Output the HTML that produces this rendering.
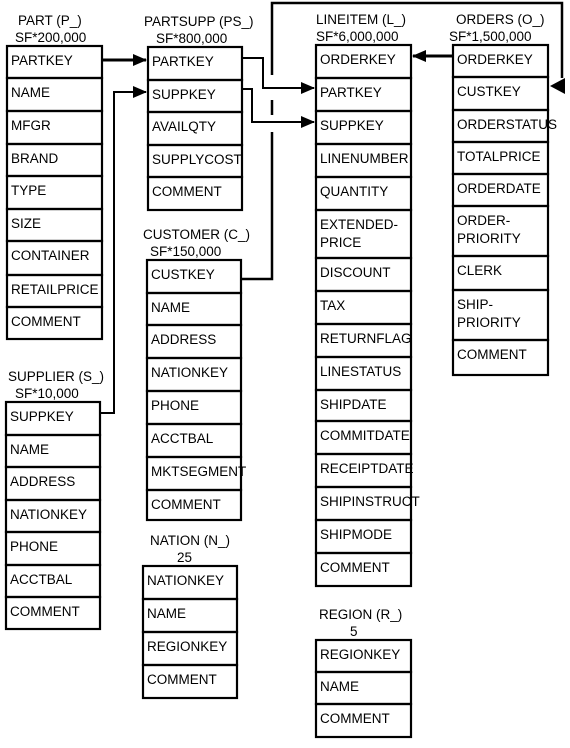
<!DOCTYPE html>
<html><head><meta charset="utf-8"><style>
body{margin:0;background:#fff;width:570px;height:743px;overflow:hidden}
svg text{font-family:"Liberation Sans",Arial,sans-serif;font-size:13.5px;fill:#000}
</style></head><body>
<svg width="570" height="743" xmlns="http://www.w3.org/2000/svg">
<defs>
<marker id="b" markerWidth="14" markerHeight="12" refX="13" refY="6" orient="auto" markerUnits="userSpaceOnUse"><path d="M0,0 L14,6 L0,12z" fill="#000"/></marker></defs>
<g id="t"></g>
<g fill="none" stroke="#000" stroke-width="2.5">
<path d="M102,60 H146" stroke-width="3" marker-end="url(#b)"/>
<path d="M100,413 H114 V92 H146" stroke-width="2" marker-end="url(#b)"/>
<path d="M242,58 H263 V88 H314" stroke-width="2" marker-end="url(#b)"/>
<path d="M242,89 H252 V122 H314" stroke-width="2" marker-end="url(#b)"/>
<path d="M241,279 H272 V132 M272,115 V100 M272,75 V3 H562 V78" stroke-width="2.5"/>
<path d="M453,56 H413" stroke-width="3" marker-end="url(#b)"/>
</g>
<path d="M565,78 L565,94 L550,86z" fill="#000"/>
</svg>
<script>
var T=[
["PART (P_)","SF*200,000",7,102,18,15,46,[["PARTKEY",32],["NAME",33],["MFGR",33],["BRAND",32],["TYPE",33],["SIZE",32],["CONTAINER",34],["RETAILPRICE",32],["COMMENT",32]]],
["PARTSUPP (PS_)","SF*800,000",148,242,144,156,47,[["PARTKEY",33],["SUPPKEY",32],["AVAILQTY",33],["SUPPLYCOST",32],["COMMENT",33]]],
["LINEITEM (L_)","SF*6,000,000",316,411,316,316,45,[["ORDERKEY",33],["PARTKEY",33],["SUPPKEY",33],["LINENUMBER",33],["QUANTITY",33],["EXTENDED-|PRICE",48],["DISCOUNT",33],["TAX",33],["RETURNFLAG",33],["LINESTATUS",33],["SHIPDATE",31],["COMMITDATE",33],["RECEIPTDATE",33],["SHIPINSTRUCT",33],["SHIPMODE",33],["COMMENT",33]]],
["ORDERS (O_)","SF*1,500,000",453,548,456,449,45,[["ORDERKEY",32],["CUSTKEY",33],["ORDERSTATUS",32],["TOTALPRICE",32],["ORDERDATE",32],["ORDER-|PRIORITY",50],["CLERK",34],["SHIP-|PRIORITY",50],["COMMENT",35]]],
["CUSTOMER (C_)","SF*150,000",147,241,143,150,260,[["CUSTKEY",33],["NAME",32],["ADDRESS",33],["NATIONKEY",33],["PHONE",33],["ACCTBAL",33],["MKTSEGMENT",33],["COMMENT",30]]],
["SUPPLIER (S_)","SF*10,000",6,100,8,15,402,[["SUPPKEY",33],["NAME",32],["ADDRESS",33],["NATIONKEY",32],["PHONE",33],["ACCTBAL",32],["COMMENT",32]]],
["NATION (N_)","25",143,237,150,177,566,[["NATIONKEY",33],["NAME",33],["REGIONKEY",33],["COMMENT",33]]],
["REGION (R_)","5",316,411,319,350,640,[["REGIONKEY",32],["NAME",32],["COMMENT",33]]]
];
var ns="http://www.w3.org/2000/svg",g=document.getElementById("t");
function el(n,a,t){var e=document.createElementNS(ns,n);for(var k in a)e.setAttribute(k,a[k]);if(t)e.textContent=t;g.appendChild(e);return e}
T.forEach(function(t){var x1=t[2],x2=t[3],y=t[6];
el("text",{x:t[4],y:y-21},t[0]);
el("text",{x:t[5],y:y-4},t[1]);
t[7].forEach(function(r){var h=r[1];
el("rect",{x:x1,y:y,width:x2-x1,height:h,fill:"none",stroke:"#000","stroke-width":2.2});
var l=r[0].split("|");
el("text",{x:x1+4,y:y+19},l[0]);if(l.length>1)el("text",{x:x1+4,y:y+37},l[1]);
y+=h;});
});
</script>
</body></html>
